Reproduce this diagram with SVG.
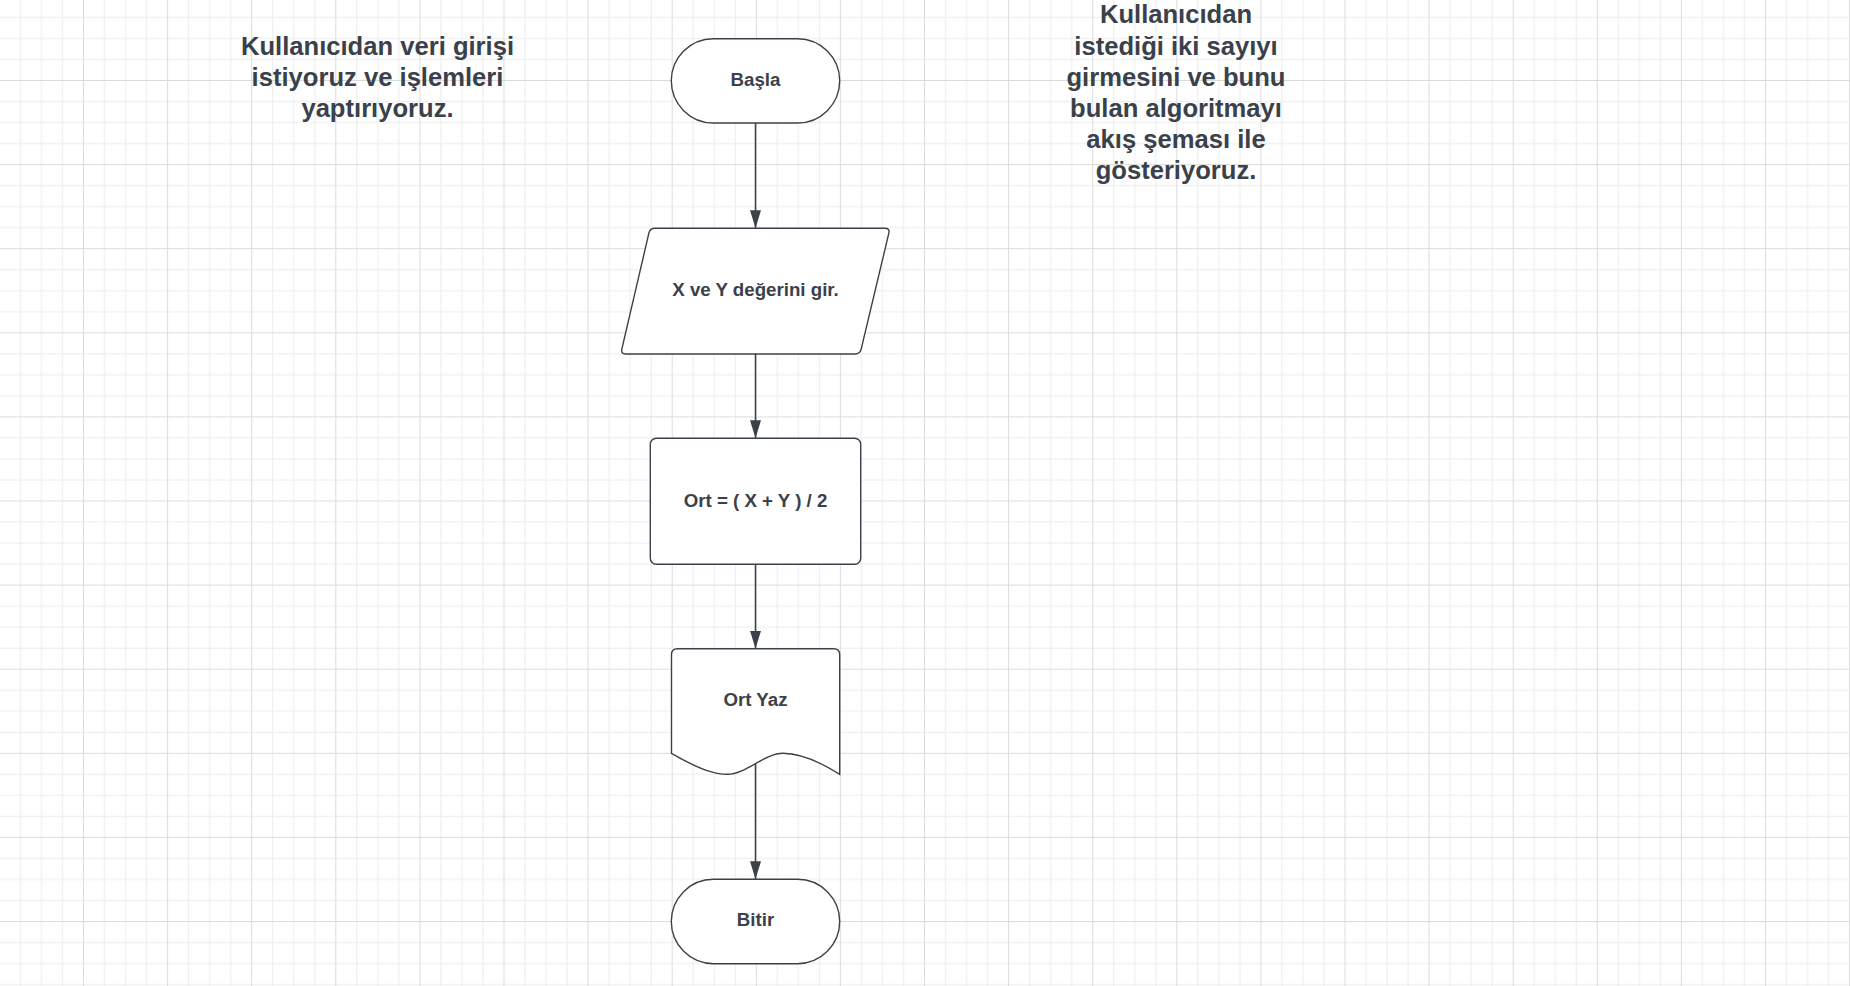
<svg xmlns="http://www.w3.org/2000/svg" width="1850" height="986" viewBox="0 0 1850 986">
  <defs>
    <pattern id="grid" patternUnits="userSpaceOnUse" x="-1.1" y="-4.1" width="84.1" height="84.1">
      <rect x="21.025" y="0" width="1" height="84.1" fill="#ececec"/>
      <rect x="42.05" y="0" width="1" height="84.1" fill="#ececec"/>
      <rect x="63.075" y="0" width="1" height="84.1" fill="#ececec"/>
      <rect x="0" y="21.025" width="84.1" height="1" fill="#ececec"/>
      <rect x="0" y="42.05" width="84.1" height="1" fill="#ececec"/>
      <rect x="0" y="63.075" width="84.1" height="1" fill="#ececec"/>
      <rect x="0" y="0" width="1" height="84.1" fill="#dcdcdc"/>
      <rect x="0" y="0" width="84.1" height="1" fill="#dcdcdc"/>
    </pattern>
    <marker id="arrow" markerUnits="userSpaceOnUse" markerWidth="18" markerHeight="11" refX="18" refY="5.5" viewBox="0 0 18 11" orient="auto">
      <path d="M0,0 L18,5.5 L0,11 Z" fill="#3a414a"/>
    </marker>
    <style>
      .shape { fill: #ffffff; stroke: #3a414a; stroke-width: 1.4; }
      .conn { fill: none; stroke: #3a414a; stroke-width: 1.5; marker-end: url(#arrow); }
      .label { font-family: "Liberation Sans", Arial, sans-serif; font-weight: bold; font-size: 18.7px; fill: #3a414a; text-anchor: middle; }
      .note { font-family: "Liberation Sans", Arial, sans-serif; font-weight: bold; font-size: 25.6px; fill: #3a414a; text-anchor: middle; }
    </style>
  </defs>
  <rect x="0" y="0" width="1850" height="986" fill="#ffffff"/>
  <rect x="0" y="0" width="1850" height="986" fill="url(#grid)"/>

  <g id="connectors">
    <line class="conn" x1="755.5" y1="123" x2="755.5" y2="228.3"/>
    <line class="conn" x1="755.5" y1="354" x2="755.5" y2="438.3"/>
    <line class="conn" x1="755.5" y1="564.3" x2="755.5" y2="648.7"/>
    <line class="conn" x1="755.5" y1="763.3" x2="755.5" y2="879.3"/>
  </g>

  <g id="node-basla">
    <rect class="shape" x="671.3" y="38.7" width="168.4" height="84.3" rx="42.15" ry="42.15"/>
    <text class="label" x="755.5" y="85.5">Başla</text>
  </g>

  <g id="node-input">
    <path class="shape" d="M655,228.3 H885 Q890,228.3 888.84,233.17 L861.16,349.13 Q860,354 855,354 H625.7 Q620.7,354 621.84,349.13 L648.86,233.17 Q650,228.3 655,228.3 Z"/>
    <text class="label" x="755.5" y="296">X ve Y değerini gir.</text>
  </g>

  <g id="node-process">
    <rect class="shape" x="650.3" y="438.3" width="210.4" height="126" rx="6" ry="6"/>
    <text class="label" x="755.5" y="506.5">Ort = ( X + Y ) / 2</text>
  </g>

  <g id="node-output">
    <path class="shape" d="M677.5,648.7 H833.7 Q839.7,648.7 839.7,654.7 V774.3 C820,762 800,753.3 783,753.3 C765,753.3 745,774.3 728,774.3 C715,774.3 700,770 671.5,753.3 V654.7 Q671.5,648.7 677.5,648.7 Z"/>
    <text class="label" x="755.5" y="705.5">Ort Yaz</text>
  </g>

  <g id="node-bitir">
    <rect class="shape" x="671.3" y="879.3" width="168.4" height="84.4" rx="42.2" ry="42.2"/>
    <text class="label" x="755.5" y="926">Bitir</text>
  </g>

  <g id="note-left">
    <text class="note" x="377.5" y="55">Kullanıcıdan veri girişi</text>
    <text class="note" x="377.5" y="85.9">istiyoruz ve işlemleri</text>
    <text class="note" x="377.5" y="116.8">yaptırıyoruz.</text>
  </g>

  <g id="note-right">
    <text class="note" x="1176" y="23.4">Kullanıcıdan</text>
    <text class="note" x="1176" y="54.5">istediği iki sayıyı</text>
    <text class="note" x="1176" y="85.6">girmesini ve bunu</text>
    <text class="note" x="1176" y="116.7">bulan algoritmayı</text>
    <text class="note" x="1176" y="147.8">akış şeması ile</text>
    <text class="note" x="1176" y="178.9">gösteriyoruz.</text>
  </g>
</svg>
